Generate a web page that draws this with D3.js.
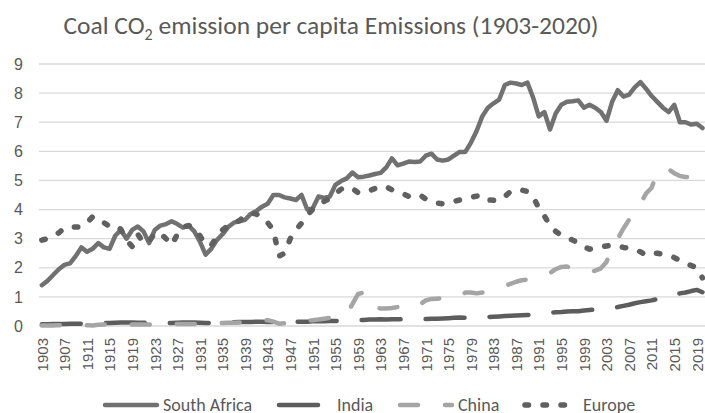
<!DOCTYPE html>
<html>
<head>
<meta charset="utf-8">
<script src="https://cdn.jsdelivr.net/npm/d3@7"></script>
<style>
  body { margin: 0; background: #fff; }
  svg { display: block; font-family: Calibri, Carlito, Lato, sans-serif; }
</style>
</head>
<body>
<svg id="chart"></svg>
<script>
var TEXT_COLOR = '#595959';
var GRID_COLOR = '#d9d9d9';

var years = d3.range(1903, 2021);
var tickYears = years.filter(function(d, i) { return i % 4 === 0; });
var yTicks = [0, 1, 2, 3, 4, 5, 6, 7, 8, 9];

var southAfrica = [
  1.40, 1.55, 1.75, 1.95, 2.10, 2.15, 2.40, 2.70, 2.55, 2.65,
  2.85, 2.70, 2.65, 3.10, 3.30, 3.00, 3.30, 3.42, 3.25, 2.85,
  3.30, 3.45, 3.50, 3.60, 3.50, 3.38, 3.45, 3.25, 2.90, 2.45,
  2.65, 2.95, 3.15, 3.40, 3.55, 3.60, 3.65, 3.85, 3.95, 4.10,
  4.20, 4.50, 4.50, 4.42, 4.38, 4.33, 4.50, 4.00, 4.05, 4.45,
  4.40, 4.45, 4.85, 4.98, 5.07, 5.27, 5.11, 5.13, 5.17, 5.22,
  5.26, 5.45, 5.76, 5.52, 5.58, 5.65, 5.63, 5.65, 5.85, 5.92,
  5.72, 5.68, 5.72, 5.85, 5.98, 5.98, 6.30, 6.70, 7.20, 7.50,
  7.65, 7.78, 8.28, 8.36, 8.33, 8.28, 8.36, 7.85, 7.20, 7.35,
  6.75, 7.30, 7.60, 7.70, 7.72, 7.75, 7.50, 7.60, 7.50, 7.35,
  7.05, 7.70, 8.10, 7.88, 7.95, 8.20, 8.38, 8.15, 7.90, 7.70,
  7.50, 7.35, 7.60, 7.00, 7.00, 6.92, 6.95, 6.80
];

var india = [
  0.06, 0.06, 0.07, 0.07, 0.07, 0.08, 0.08, 0.08, 0.08, 0.09,
  0.10, 0.10, 0.10, 0.11, 0.12, 0.12, 0.12, 0.11, 0.11, 0.10,
  0.10, 0.10, 0.10, 0.10, 0.11, 0.12, 0.12, 0.12, 0.11, 0.10,
  0.10, 0.11, 0.12, 0.12, 0.13, 0.14, 0.14, 0.14, 0.15, 0.15,
  0.14, 0.14, 0.13, 0.13, 0.14, 0.14, 0.15, 0.15, 0.16, 0.16,
  0.16, 0.17, 0.17, 0.18, 0.19, 0.20, 0.21, 0.21, 0.22, 0.22,
  0.23, 0.22, 0.23, 0.23, 0.23, 0.24, 0.24, 0.24, 0.24, 0.25,
  0.25, 0.26, 0.27, 0.28, 0.29, 0.28, 0.29, 0.29, 0.30, 0.31,
  0.32, 0.33, 0.34, 0.35, 0.36, 0.37, 0.38, 0.39, 0.41, 0.43,
  0.46, 0.47, 0.48, 0.50, 0.51, 0.51, 0.53, 0.55, 0.56, 0.58,
  0.60, 0.62, 0.65, 0.69, 0.73, 0.78, 0.82, 0.85, 0.88, 0.93,
  0.98, 1.06, 1.10, 1.12, 1.15, 1.20, 1.24, 1.16
];

var china = [
  0.02, 0.02, 0.02, 0.03, 0.03, 0.03, 0.03, 0.03, 0.03, 0.02,
  0.04, 0.05, 0.05, 0.05, 0.05, 0.05, 0.05, 0.05, 0.05, 0.05,
  0.05, 0.06, 0.06, 0.06, 0.07, 0.07, 0.07, 0.07, 0.08, 0.08,
  0.09, 0.10, 0.10, 0.11, 0.11, 0.12, 0.13, 0.15, 0.17, 0.18,
  0.20, 0.15, 0.08, 0.10, 0.11, 0.12, 0.14, 0.18, 0.20, 0.22,
  0.25, 0.28, 0.32, 0.36, 0.42, 0.75, 1.10, 1.15, 0.70, 0.63,
  0.60, 0.60, 0.62, 0.65, 0.62, 0.58, 0.60, 0.75, 0.88, 0.93,
  0.94, 0.95, 0.97, 0.98, 0.99, 1.15, 1.15, 1.12, 1.15, 1.20,
  1.26, 1.32, 1.38, 1.45, 1.52, 1.57, 1.60, 1.65, 1.70, 1.74,
  1.82, 1.95, 2.03, 2.04, 1.98, 1.90, 1.88, 1.86, 1.90, 1.98,
  2.20, 2.65, 3.00, 3.35, 3.65, 4.00, 4.20, 4.55, 4.75, 5.30,
  5.42, 5.38, 5.25, 5.15, 5.12, 5.12, 5.15, 5.17
];

var europe = [
  2.95, 3.00, 3.08, 3.20, 3.36, 3.41, 3.40, 3.41, 3.55, 3.75,
  3.72, 3.55, 3.42, 3.46, 3.32, 2.95, 2.73, 3.15, 2.85, 2.90,
  3.20, 3.18, 3.00, 2.78, 3.15, 3.40, 3.45, 3.36, 3.10, 2.78,
  2.78, 3.05, 3.30, 3.45, 3.55, 3.62, 3.80, 3.87, 3.85, 3.66,
  3.55, 3.30, 2.40, 2.50, 3.00, 3.30, 3.53, 3.80, 4.02, 4.16,
  4.28, 4.38, 4.55, 4.70, 4.78, 4.72, 4.58, 4.58, 4.65, 4.72,
  4.80, 4.78, 4.68, 4.60, 4.54, 4.45, 4.50, 4.50, 4.36, 4.28,
  4.22, 4.20, 4.22, 4.28, 4.33, 4.37, 4.42, 4.46, 4.48, 4.33,
  4.32, 4.32, 4.45, 4.62, 4.67, 4.67, 4.62, 4.45, 4.05, 3.78,
  3.45, 3.25, 3.12, 3.05, 2.95, 2.86, 2.72, 2.64, 2.68, 2.72,
  2.75, 2.78, 2.76, 2.70, 2.68, 2.63, 2.55, 2.43, 2.48, 2.50,
  2.46, 2.42, 2.35, 2.25, 2.15, 2.08, 2.00, 1.65
];

var series = [
  { name: 'South Africa', values: southAfrica, color: '#717171', width: 4.5, dash: null },
  { name: 'India', values: india, color: '#5d5d5d', width: 4.5, dash: '39 25' },
  { name: 'China', values: china, color: '#a5a5a5', width: 4.5, dash: '18 27' },
  { name: 'Europe', values: europe, color: '#606060', width: 5.5, dash: '3.5 14.5' }
];

var legendStarts = [103, 277, 398, 523];

function drawChart()
{
  var w = 705;
  var h = 413;

  var svg = d3.select('#chart')
    .attr('width', w)
    .attr('height', h);

  var xScale = d3.scalePoint().domain(years).range([39, 705.3]).padding(0.5);
  var yScale = d3.scaleLinear().domain([0, 9]).range([326, 64]);

  // title
  var title = svg.append('text')
    .attr('x', 331)
    .attr('y', 34)
    .attr('text-anchor', 'middle')
    .attr('fill', TEXT_COLOR)
    .style('font-size', '25.5px');
  title.append('tspan').text('Coal CO');
  title.append('tspan').text('2').style('font-size', '16px').attr('dy', 6);
  title.append('tspan').text(' emission per capita Emissions (1903-2020)').attr('dy', -6);

  // gridlines
  svg.append('g')
    .selectAll('line')
    .data(yTicks)
    .enter()
      .append('line')
      .attr('x1', 39)
      .attr('x2', w)
      .attr('y1', function(d) { return yScale(d); })
      .attr('y2', function(d) { return yScale(d); })
      .attr('stroke', GRID_COLOR)
      .attr('stroke-width', 1.3);

  // y axis
  var yAxis = svg.append('g')
    .attr('transform', 'translate(23,0)')
    .call(d3.axisLeft(yScale).tickValues(yTicks).tickSize(0).tickPadding(0));
  yAxis.select('.domain').remove();
  yAxis.selectAll('text')
    .attr('fill', TEXT_COLOR)
    .style('font-size', '16px')
    .style('font-family', null);

  // x axis
  var xAxis = svg.append('g')
    .attr('transform', 'translate(0,326)')
    .call(d3.axisBottom(xScale).tickValues(tickYears).tickSize(0));
  xAxis.select('.domain').remove();
  xAxis.selectAll('text')
    .attr('fill', TEXT_COLOR)
    .style('font-size', '15px')
    .style('font-family', null)
    .attr('text-anchor', 'end')
    .attr('transform', 'rotate(-90)')
    .attr('x', -12)
    .attr('y', 0)
    .attr('dy', '0.35em');

  // lines
  var line = d3.line()
    .x(function(d, i) { return xScale(years[i]); })
    .y(function(d) { return yScale(d); });

  svg.append('g')
    .selectAll('path')
    .data(series)
    .enter()
      .append('path')
      .attr('d', function(s) { return line(s.values); })
      .attr('fill', 'none')
      .attr('stroke', function(s) { return s.color; })
      .attr('stroke-width', function(s) { return s.width; })
      .attr('stroke-dasharray', function(s) { return s.dash; })
      .attr('stroke-linecap', 'round')
      .attr('stroke-linejoin', 'round');

  // legend
  var legend = svg.append('g');
  var ly = 405;
  series.forEach(function(s, i) {
    var lx = legendStarts[i];
    legend.append('line')
      .attr('x1', lx + 2)
      .attr('x2', lx + 54)
      .attr('y1', ly)
      .attr('y2', ly)
      .attr('stroke', s.color)
      .attr('stroke-width', s.width)
      .attr('stroke-dasharray', s.dash)
      .attr('stroke-linecap', 'round');
    legend.append('text')
      .attr('x', lx + 60)
      .attr('y', ly)
      .attr('dy', '0.35em')
      .attr('fill', TEXT_COLOR)
      .style('font-size', '18px')
      .text(s.name);
  });
}

drawChart();
</script>
</body>
</html>
